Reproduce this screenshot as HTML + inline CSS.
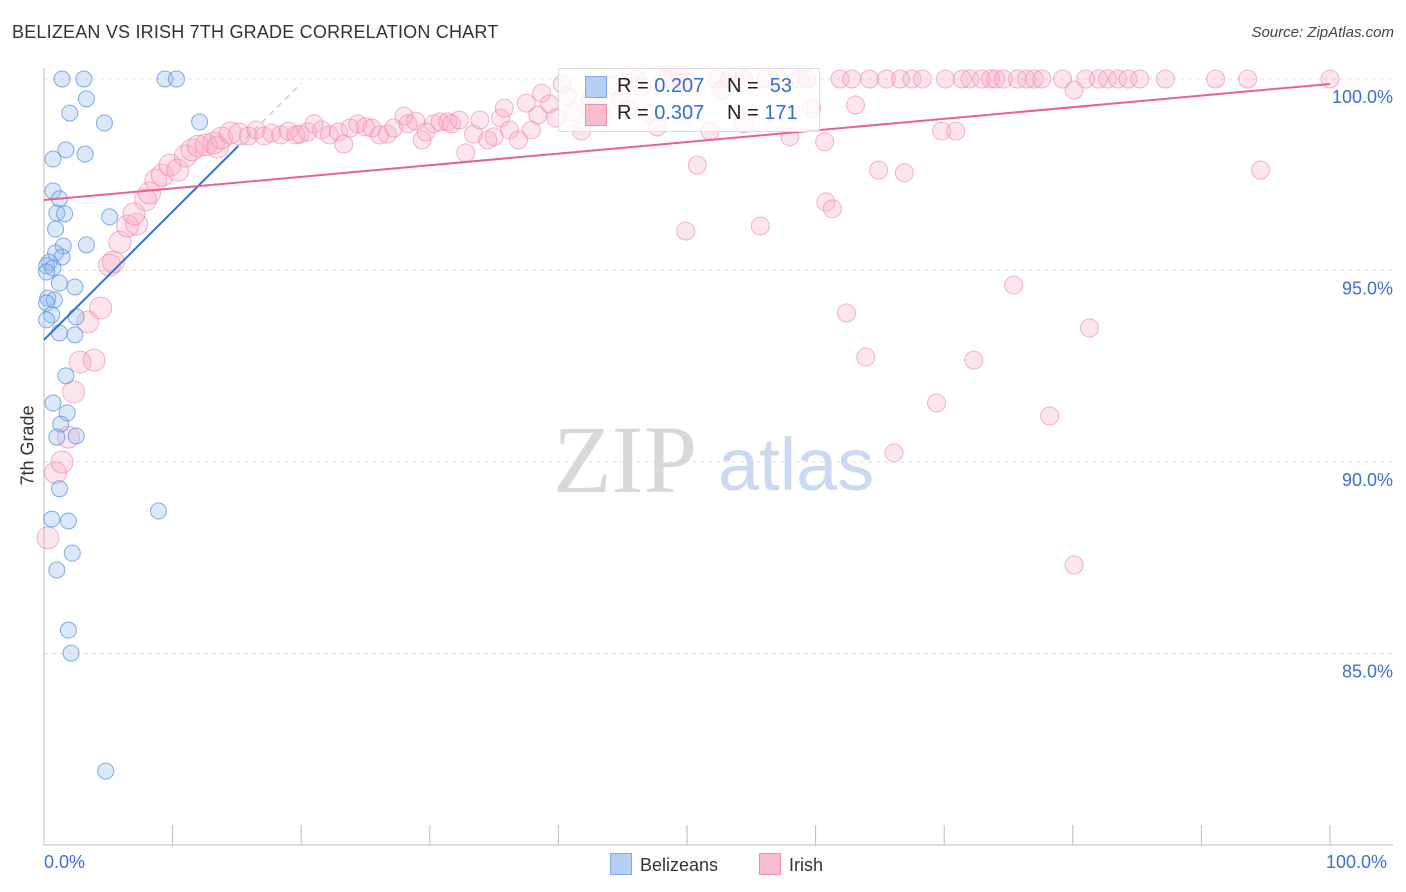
<!DOCTYPE html>
<html><head><meta charset="utf-8">
<style>
body{margin:0;background:#fff;font-family:"Liberation Sans",sans-serif;}
#wrap{position:relative;width:1406px;height:892px;overflow:hidden;}
.t{position:absolute;white-space:nowrap;}
</style></head>
<body>
<div id="wrap">
<div class="t" style="left:12px;top:22px;font-size:18px;color:#333;letter-spacing:0.2px">BELIZEAN VS IRISH 7TH GRADE CORRELATION CHART</div>
<div class="t" style="right:12px;top:24px;font-size:15px;color:#444;font-style:italic">Source: ZipAtlas.com</div>
<svg id="svg" width="1406" height="892" style="position:absolute;left:0;top:0"></svg>
</div>
<script>
const blueX=[1.4,3.1,9.4,10.3,3.3,2.0,4.7,12.1,1.7,3.2,0.7,0.7,1.2,1.0,1.6,5.1,0.9,3.3,1.5,0.9,1.4,0.4,0.2,0.7,0.2,1.2,2.4,0.3,0.8,0.2,0.6,2.5,0.2,1.2,2.4,1.7,0.7,1.8,1.3,2.5,1.0,1.2,0.6,1.9,8.9,2.2,1.0,1.9,2.1,4.8];
const blueY=[100,100,100,100,99.48,99.11,98.85,98.88,98.15,98.04,97.91,97.08,96.87,96.50,96.48,96.40,96.08,95.67,95.64,95.46,95.35,95.22,95.12,95.07,94.96,94.67,94.57,94.28,94.23,94.15,93.84,93.79,93.71,93.37,93.32,92.25,91.54,91.28,90.99,90.68,90.65,89.30,88.51,88.46,88.72,87.62,87.18,85.61,85.01,81.93];
const pinkX=[0.3,0.9,1.4,1.9,2.3,2.8,3.9,3.4,4.4,5.1,5.4,5.9,6.5,7.2,7.0,7.9,8.2,8.7,9.2,9.8,10.4,11.0,11.5,12.0,12.6,13.2,13.5,13.8,14.5,15.2,15.9,16.5,17.1,17.7,18.4,19.0,19.6,19.9,20.5,21.0,21.6,22.2,22.9,23.3,23.8,24.4,25.0,25.5,26.1,26.7,27.2,28.0,28.3,28.9,29.4,29.7,30.3,30.8,31.4,31.7,32.3,32.8,33.4,33.9,34.5,35.0,35.5,35.8,36.2,36.9,37.5,37.9,38.4,38.7,39.3,39.8,40.3,40.7,41.2,41.8,42.5,43.1,43.5,44.2,44.8,45.4,46.0,46.5,47.1,47.7,48.2,48.8,49.5,49.9,50.8,49.9,51.8,52.3,52.7,53.3,54.4,55.7,54.4,56.1,57.2,58.0,58.8,59.3,59.7,60.7,60.8,61.3,61.9,62.4,63.1,62.8,63.9,64.2,64.9,65.5,66.1,66.6,66.9,67.5,68.3,69.4,69.8,70.1,70.9,71.4,72.0,72.3,72.9,73.6,74.0,74.6,75.4,75.7,76.4,77.0,77.6,78.2,79.2,80.1,80.1,81.0,81.3,82.0,82.7,83.5,84.3,85.2,87.2,91.1,93.6,94.6,100];
const pinkY=[88.02,89.72,90.00,90.65,91.83,92.61,92.66,93.66,94.02,95.14,95.22,95.74,96.16,96.21,96.48,96.84,97.02,97.36,97.49,97.75,97.62,97.99,98.15,98.25,98.28,98.33,98.22,98.46,98.59,98.56,98.51,98.67,98.51,98.59,98.54,98.64,98.54,98.56,98.62,98.83,98.67,98.54,98.62,98.30,98.72,98.83,98.75,98.72,98.54,98.56,98.72,99.03,98.83,98.90,98.41,98.62,98.83,98.88,98.88,98.83,98.93,98.07,98.56,98.93,98.41,98.49,98.98,99.24,98.67,98.41,99.37,98.67,99.06,99.63,99.35,98.98,99.87,99.56,99.14,98.64,99.45,99.71,99.11,99.84,99.45,99.19,100,99.79,99.09,98.75,100,100,100,99.92,97.75,96.03,98.64,100,99.71,100,100,96.16,98.83,100,100,98.49,100,100,99.24,98.36,96.79,96.61,100,93.89,99.32,100,92.74,100,97.62,100,90.24,100,97.55,100,100,91.54,98.64,100,98.64,100,100,92.66,100,100,100,100,94.62,100,100,100,100,91.20,100,87.31,99.71,100,93.50,100,100,100,100,100,100,100,100,97.62,100];
const yTicks=[100,95,90,85];
const yTickLabels=["100.0%","95.0%","90.0%","85.0%"];
const xTicks=[0,10,20,30,40,50,60,70,80,90,100];
const blueLine=[93.19,0.335];  // intercept, slope
const pinkLine=[96.84,0.0303];

const X=v=>44+v*12.86, Y=v=>79+(100-v)*38.3;
const svg=document.getElementById('svg');
const NS='http://www.w3.org/2000/svg';
function mk(tag,at,parent){const e=document.createElementNS(NS,tag);for(const k in at)e.setAttribute(k,at[k]);(parent||svg).appendChild(e);return e;}

// gridlines
yTicks.forEach((v,i)=>{
 const g=mk('line',{x1:44,x2:1393,y1:Y(v),y2:Y(v),stroke:'#ddd','stroke-dasharray':'4,4'});
 
 
 const t=mk('text',{x:1393,y:Y(v)+24,'text-anchor':'end','font-size':18,fill:'#3a6fd8','font-family':'Liberation Sans'});
 t.textContent=yTickLabels[i];
 
 
});
// axes
mk('line',{x1:44,x2:44,y1:68,y2:845,stroke:'#bbb'});
mk('line',{x1:44,x2:1393,y1:845,y2:845,stroke:'#bbb'});
xTicks.forEach(v=>{
 const l=mk('line',{x1:X(v),x2:X(v),y1:825,y2:845,stroke:'#bbb'});
 
 
});
// watermark
const wm=mk('text',{x:553,y:492,'font-size':96,fill:'#d8d8d8','font-family':'Liberation Serif'});wm.textContent='ZIP';


const wm2=mk('text',{x:718,y:490,'font-size':74,fill:'#c9d9f2','font-family':'Liberation Sans'});wm2.textContent='atlas';



// pink points
pinkX.forEach((v,i)=>{
 const r=i<30?11:9;
 const c=mk('circle',{cx:X(v),cy:Y(pinkY[i]),r:r,fill:'rgba(248,170,195,0.3)',stroke:'rgba(236,130,165,0.6)','stroke-width':1});
 
 
});
// blue points
blueX.forEach((v,i)=>{
 const c=mk('circle',{cx:X(v),cy:Y(blueY[i]),r:8,fill:'rgba(150,190,240,0.35)',stroke:'rgba(80,140,220,0.7)','stroke-width':1});
 
 
});
// trend lines
const bl=mk('line',{x1:X(0),y1:Y(blueLine[0]),x2:X(15.1),y2:Y(blueLine[0]+blueLine[1]*15.1),stroke:'#2f6fd6','stroke-width':2});


const bd=mk('line',{x1:X(15.1),y1:Y(blueLine[0]+blueLine[1]*15.1),x2:X(20),y2:Y(blueLine[0]+blueLine[1]*20),stroke:'#a9c4ec','stroke-width':1.2,'stroke-dasharray':'6,5'});


const pl=mk('line',{x1:X(0),y1:Y(pinkLine[0]),x2:X(100),y2:Y(pinkLine[0]+pinkLine[1]*100),stroke:'#e8628e','stroke-width':2});


</script>
<div class="t" style="left:-2px;top:445px;font-size:18px;color:#333;transform:rotate(-90deg);transform-origin:center;width:60px;text-align:center">7th Grade</div>
<div class="t" style="left:44px;top:852px;font-size:18px;color:#3a6fd8">0.0%</div>
<div class="t" style="left:1326px;top:852px;font-size:18px;color:#3a6fd8">100.0%</div>
<div style="position:absolute;left:558px;top:68px;width:260px;height:62px;border:1px solid #ddd;background:rgba(255,255,255,0.75);font-size:20px;color:#222">
 <div style="position:absolute;left:26px;top:7px;width:20px;height:20px;background:#b5cff5;border:1px solid #7fa8e6"></div>
 <div class="t" style="left:58px;top:6px">R = <span style="color:#2f6fd6">0.207</span></div>
 <div class="t" style="left:168px;top:6px">N = &nbsp;<span style="color:#2f6fd6">53</span></div>
 <div style="position:absolute;left:26px;top:35px;width:20px;height:20px;background:#f8bccf;border:1px solid #ec90b0"></div>
 <div class="t" style="left:58px;top:33px">R = <span style="color:#2f6fd6">0.307</span></div>
 <div class="t" style="left:168px;top:33px">N = <span style="color:#2f6fd6">171</span></div>
</div>
<div style="position:absolute;left:610px;top:853px;font-size:18px;color:#333">
 <span style="display:inline-block;width:20px;height:20px;background:#b5cff5;border:1px solid #7fa8e6;vertical-align:-4px;margin-right:8px"></span>Belizeans</div>
<div style="position:absolute;left:759px;top:853px;font-size:18px;color:#333">
 <span style="display:inline-block;width:20px;height:20px;background:#f8bccf;border:1px solid #ec90b0;vertical-align:-4px;margin-right:8px"></span>Irish</div>
</body></html>
